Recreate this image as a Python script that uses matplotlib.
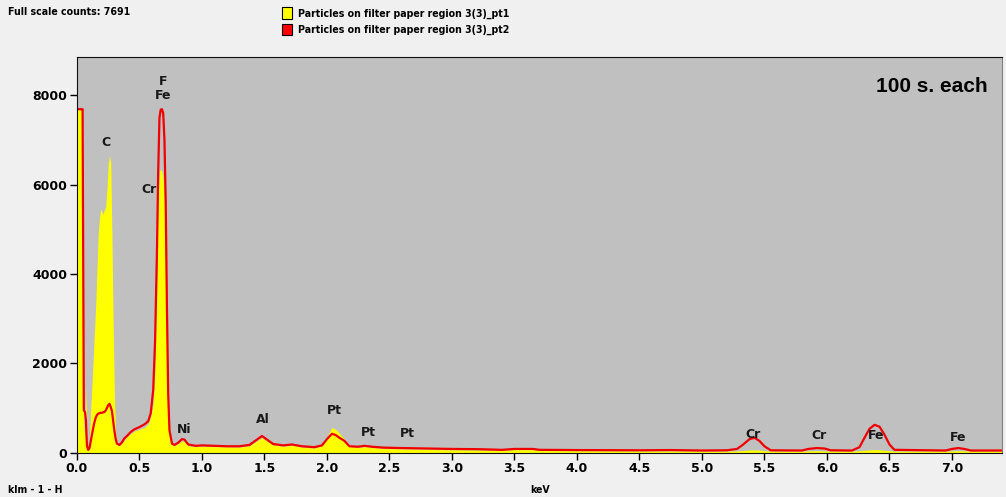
import matplotlib
matplotlib.use("Agg")
import numpy as np
from matplotlib import pyplot as plt
from matplotlib.patches import Patch

# spectrum (keV, counts)
energy = [0.00, 0.04, 0.045, 0.055, 0.065, 0.072, 0.08, 0.09, 0.10, 0.11,
          0.12, 0.13, 0.14, 0.15, 0.16, 0.17, 0.18, 0.19, 0.20, 0.21,
          0.22, 0.23, 0.24, 0.25, 0.26, 0.27, 0.28, 0.29, 0.30, 0.31,
          0.32, 0.34, 0.36, 0.38, 0.40, 0.43, 0.46, 0.50, 0.54, 0.57,
          0.59, 0.61, 0.625, 0.64, 0.65, 0.66, 0.67, 0.68, 0.69, 0.70,
          0.71, 0.72, 0.73, 0.74, 0.76, 0.78, 0.81, 0.84, 0.86, 0.89,
          0.95, 1.00, 1.10, 1.20, 1.30, 1.38, 1.44, 1.48, 1.52, 1.57,
          1.65, 1.72, 1.80, 1.90, 1.96, 2.00, 2.04, 2.07, 2.10, 2.14,
          2.18, 2.25, 2.30, 2.36, 2.45, 2.60, 2.80, 3.00, 3.20, 3.40,
          3.50, 3.65, 3.70, 4.00, 4.50, 4.75, 5.00, 5.20, 5.28, 5.33,
          5.38, 5.42, 5.46, 5.50, 5.55, 5.80, 5.85, 5.92, 5.98, 6.03,
          6.20, 6.26, 6.30, 6.34, 6.38, 6.42, 6.46, 6.50, 6.54, 6.95,
          7.00, 7.05, 7.10, 7.15, 7.40]
pt1 = [7691, 7691, 7691, 600, 300, 1500, 200, 80, 300, 1000,
       1500, 2100, 2700, 3300, 4100, 4900, 5250, 5450, 5400, 5330,
       5450, 5500, 5900, 6450, 6650, 6500, 4800, 2800, 1200, 400,
       200, 150, 200, 280, 350, 420, 480, 520, 560, 640,
       800, 1100, 2000, 4000, 5800, 6300, 6350, 6300, 6100, 5500,
       3800, 2200, 1000, 400, 200, 160, 200, 260, 250, 150,
       130, 140, 130, 125, 120, 150, 260, 330, 260, 170,
       140, 160, 120, 100, 150, 350, 560, 520, 430, 300,
       140, 110, 130, 110, 90, 80, 70, 60, 55, 50,
       65, 65, 45, 40, 35, 35, 30, 30, 35, 45,
       55, 60, 55, 40, 30, 30, 35, 40, 35, 30,
       30, 40, 50, 60, 65, 60, 50, 40, 30, 30,
       35, 40, 35, 30, 30]
pt2 = [7691, 7691, 7691, 950, 900, 700, 150, 60, 100, 250,
       400, 550, 680, 780, 840, 870, 880, 890, 890, 900,
       910, 940, 1000, 1060, 1090, 1020, 930, 700, 480, 300,
       200, 170, 230, 320, 370, 460, 520, 570, 630, 700,
       880, 1400, 2500, 4500, 6300, 7500, 7680, 7691, 7600, 7000,
       5600, 3200, 1300, 500, 200, 170, 220, 300, 290, 180,
       150, 160, 150, 140, 140, 170, 290, 370, 290, 190,
       160, 180, 140, 120, 160, 300, 420, 390, 330, 260,
       140, 130, 150, 130, 110, 100, 90, 80, 75, 60,
       80, 80, 60, 55, 50, 55, 45, 50, 80, 180,
       300, 330, 260, 140, 50, 45, 80, 100, 90, 50,
       45, 120, 330, 530, 620, 580, 400, 180, 60, 45,
       80, 100, 80, 45, 45]

peak_names = ['C', 'F\nFe', 'Cr', 'Ni', 'Al', 'Pt', 'Pt', 'Pt', 'Cr', 'Cr', 'Fe', 'Fe']
peak_x = [0.23, 0.69, 0.58, 0.86, 1.49, 2.06, 2.33, 2.64, 5.41, 5.94, 6.39, 7.05]
peak_y = [6800, 7850, 5750, 380, 600, 800, 300, 280, 250, 230, 230, 200]

series_names = ['Particles on filter paper region 3(3)_pt1',
                'Particles on filter paper region 3(3)_pt2']

# condensed bold face for the header/footer texts
narrow = dict(family='DejaVu Sans', stretch='condensed', weight='bold', size=7.6)

fig = plt.figure(figsize=(10.06, 4.97), dpi=100, facecolor='#f0f0f0')
ax = fig.add_axes([0.0765, 0.0895, 0.9195, 0.7958])
ax.set_facecolor('#c0c0c0')

ax.fill_between(energy, pt1, 0, color='#ffff00', linewidth=0)
ax.plot(energy, pt2, color='#f00000', linewidth=1.6)

for name, x, y in zip(peak_names, peak_x, peak_y):
    ax.text(x, y, name, ha='center', va='bottom', fontsize=9,
            fontweight='bold', color='#181818', linespacing=1.1)

ax.text(0.985, 0.925, '100 s. each', transform=ax.transAxes, ha='right',
        va='center', fontsize=15, fontweight='bold', family='Liberation Sans')

ax.set_xlim(0, 7.4)
ax.set_ylim(0, 8860)
ax.set_xticks(np.arange(0, 7.01, 0.5))
ax.set_yticks([0, 2000, 4000, 6000, 8000])
ax.tick_params(direction='out', length=5, width=1, labelsize=9, pad=2)
for lbl in ax.get_xticklabels() + ax.get_yticklabels():
    lbl.set_fontweight('bold')
for side in ['left', 'bottom', 'top']:
    ax.spines[side].set_color('#101010')
ax.spines['right'].set_color('#808080')

handles = [Patch(facecolor='#ffff00', edgecolor='black', linewidth=0.8),
           Patch(facecolor='#ff0000', edgecolor='black', linewidth=0.8)]
fig.legend(handles, series_names, loc='upper left', bbox_to_anchor=(0.273, 1.0),
           frameon=False, handlelength=0.95, handleheight=1.25, handletextpad=0.55,
           labelspacing=0.45, borderpad=0.2, prop=narrow)

fig.text(0.008, 0.975, 'Full scale counts: 7691', va='center', **narrow)
fig.text(0.008, 0.015, 'klm - 1 - H', va='center', **narrow)
fig.text(0.537, 0.015, 'keV', va='center', ha='center', **narrow)

fig.savefig('out.png', dpi=100, facecolor=fig.get_facecolor())
